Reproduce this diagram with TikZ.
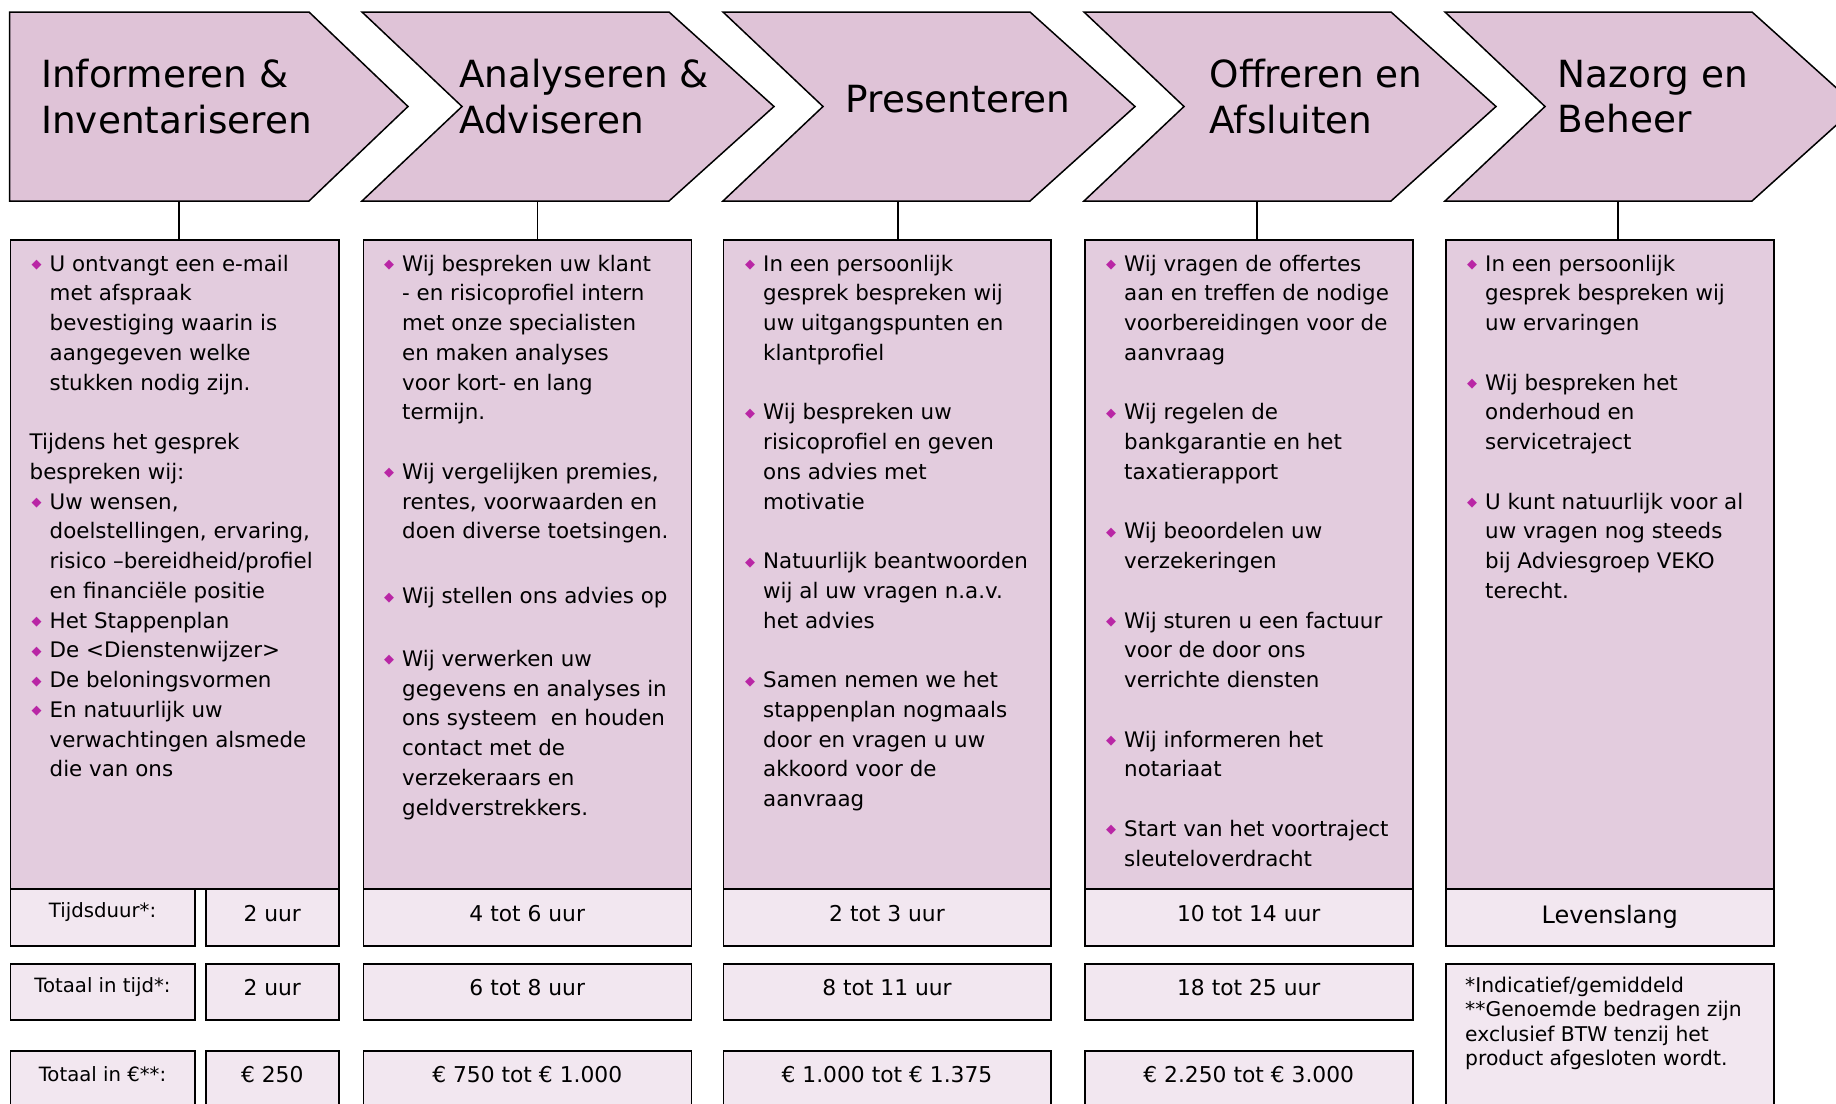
\documentclass[tikz,border=0pt]{standalone}
\usepackage{fontspec}
\setmainfont{DejaVu Sans}
\definecolor{chevfill}{RGB}{223,195,215}
\definecolor{boxfill}{RGB}{227,204,222}
\definecolor{rowfill}{RGB}{242,231,240}
\definecolor{bulletmag}{RGB}{185,38,165}
\newcommand{\bul}{\makebox[20pt][l]{\hspace{2pt}\raisebox{2.5pt}{\textcolor{bulletmag}{\fontsize{13}{13}\selectfont ◆}}}}
\newcommand{\ind}{\makebox[20pt][l]{}}
\newcommand{\pgap}{29.75pt}
\begin{document}
\begin{tikzpicture}[x=1pt,y=-1pt,
  chev/.style={fill=chevfill,draw=black,line width=1.5pt,line join=miter},
  bodybox/.style={fill=boxfill,draw=black,line width=1.5pt,inner sep=0pt,anchor=north west},
  rowbox/.style={fill=rowfill,draw=black,line width=1.5pt,inner sep=0pt,anchor=north west},
  title/.style={anchor=west,inner sep=0pt,font=\fontsize{37.4}{45.5}\selectfont,align=left},
  bodytext/.style={anchor=north west,inner sep=0pt,font=\fontsize{21.4}{29.75}\selectfont,align=left},
  valtext/.style={inner sep=0pt,font=\fontsize{21.8}{25}\selectfont},
  labtext/.style={inner sep=0pt,font=\fontsize{19.7}{22}\selectfont},
  notetext/.style={anchor=north west,inner sep=0pt,font=\fontsize{20.3}{24.3}\selectfont,align=left},
  stem/.style={line width=1.5pt}]
\useasboundingbox (0,0) rectangle (1836,1103);

% chevrons
\draw[chev] (9.5,12) -- (309,12) -- (408,106.5) -- (309,201) -- (9.5,201) -- cycle;
\foreach \L in {362,723,1084,1445}
  \draw[chev] (\L,12) -- (\L+307,12) -- (\L+412,106.5) -- (\L+307,201) -- (\L,201) -- (\L+100,106.5) -- cycle;

\node[title] (t1) at (41,96.5) {Informeren \&\\Inventariseren};
\node[title] (t2) at (459,96.5) {Analyseren \&\\Adviseren};
\node[title] (t3) at (845.5,99.5) {Presenteren};
\node[title] (t4) at (1209.5,96.5) {Offreren en\\Afsluiten};
\node[title] (t5) at (1557.5,96.5) {Nazorg en\\Beheer};

% body boxes
\node[bodybox,minimum width=328.5pt,minimum height=649pt] (body1) at (9.5,239) {};
\node[bodybox,minimum width=328pt,minimum height=649pt] (body2) at (362.5,239) {};
\node[bodybox,minimum width=327.5pt,minimum height=649pt] (body3) at (722.5,239) {};
\node[bodybox,minimum width=328pt,minimum height=649pt] (body4) at (1084,239) {};
\node[bodybox,minimum width=328pt,minimum height=649pt] (body5) at (1445,239) {};

% stems
\coordinate (c1) at (179,201);
\coordinate (c2) at (537.5,201);
\coordinate (c3) at (898,201);
\coordinate (c4) at (1257,201);
\coordinate (c5) at (1618,201);
\foreach \i in {1,...,5}
  \draw[stem] (c\i) -- (c\i |- body\i.north);

\node[bodytext] (txt1) at (29.5,250) {\strut\bul U ontvangt een e-mail\\
\ind met afspraak\\
\ind bevestiging waarin is\\
\ind aangegeven welke\\
\ind stukken nodig zijn.\\[\pgap]
Tijdens het gesprek\\
bespreken wij:\\
\bul Uw wensen,\\
\ind doelstellingen, ervaring,\\
\ind risico –bereidheid/profiel\\
\ind en financiële positie\\
\bul Het Stappenplan\\
\bul De <Dienstenwijzer>\\
\bul De beloningsvormen\\
\bul En natuurlijk uw\\
\ind verwachtingen alsmede\\
\ind die van ons};

\node[bodytext] (txt2) at (382,250) {\strut\bul Wij bespreken uw klant\\
\ind - en risicoprofiel intern\\
\ind met onze specialisten\\
\ind en maken analyses\\
\ind voor kort- en lang\\
\ind termijn.\\[\pgap]
\bul Wij vergelijken premies,\\
\ind rentes, voorwaarden en\\
\ind doen diverse toetsingen.\\[35pt]
\bul Wij stellen ons advies op\\[33pt]
\bul Wij verwerken uw\\
\ind gegevens en analyses in\\
\ind ons systeem \ en houden\\
\ind contact met de\\
\ind verzekeraars en\\
\ind geldverstrekkers.};

\node[bodytext] (txt3) at (743,250) {\strut\bul In een persoonlijk\\
\ind gesprek bespreken wij\\
\ind uw uitgangspunten en\\
\ind klantprofiel\\[\pgap]
\bul Wij bespreken uw\\
\ind risicoprofiel en geven\\
\ind ons advies met\\
\ind motivatie\\[\pgap]
\bul Natuurlijk beantwoorden\\
\ind wij al uw vragen n.a.v.\\
\ind het advies\\[\pgap]
\bul Samen nemen we het\\
\ind stappenplan nogmaals\\
\ind door en vragen u uw\\
\ind akkoord voor de\\
\ind aanvraag};

\node[bodytext] (txt4) at (1104,250) {\strut\bul Wij vragen de offertes\\
\ind aan en treffen de nodige\\
\ind voorbereidingen voor de\\
\ind aanvraag\\[\pgap]
\bul Wij regelen de\\
\ind bankgarantie en het\\
\ind taxatierapport\\[\pgap]
\bul Wij beoordelen uw\\
\ind verzekeringen\\[\pgap]
\bul Wij sturen u een factuur\\
\ind voor de door ons\\
\ind verrichte diensten\\[\pgap]
\bul Wij informeren het\\
\ind notariaat\\[\pgap]
\bul Start van het voortraject\\
\ind sleuteloverdracht};

\node[bodytext] (txt5) at (1465,250) {\strut\bul In een persoonlijk\\
\ind gesprek bespreken wij\\
\ind uw ervaringen\\[\pgap]
\bul Wij bespreken het\\
\ind onderhoud en\\
\ind servicetraject\\[\pgap]
\bul U kunt natuurlijk voor al\\
\ind uw vragen nog steeds\\
\ind bij Adviesgroep VEKO\\
\ind terecht.};

% Tijdsduur row
\node[rowbox,minimum width=184.5pt,minimum height=57pt] (dur0) at (9.5,888) {};
\node[rowbox,minimum width=133pt,minimum height=57pt] (dur1) at (205,888) {};
\node[rowbox,minimum width=328pt,minimum height=57pt] (dur2) at (362.5,888) {};
\node[rowbox,minimum width=327.5pt,minimum height=57pt] (dur3) at (722.5,888) {};
\node[rowbox,minimum width=328pt,minimum height=57pt] (dur4) at (1084,888) {};
\node[rowbox,minimum width=328pt,minimum height=57pt] (dur5) at (1445,888) {};
\node[labtext] at ([yshift=5pt]dur0.center) {Tijdsduur*:};
\node[valtext] at ([yshift=4pt]dur1.center) {2 uur};
\node[valtext] at ([yshift=4pt]dur2.center) {4 tot 6 uur};
\node[valtext] at ([yshift=4pt]dur3.center) {2 tot 3 uur};
\node[valtext] at ([yshift=4pt]dur4.center) {10 tot 14 uur};
\node[valtext,font=\fontsize{24}{28}\selectfont] at ([yshift=0pt]dur5.center) {Levenslang};

% Totaal in tijd row
\node[rowbox,minimum width=184.5pt,minimum height=56pt] (tot0) at (9.5,963) {};
\node[rowbox,minimum width=133pt,minimum height=56pt] (tot1) at (205,963) {};
\node[rowbox,minimum width=328pt,minimum height=56pt] (tot2) at (362.5,963) {};
\node[rowbox,minimum width=327.5pt,minimum height=56pt] (tot3) at (722.5,963) {};
\node[rowbox,minimum width=328pt,minimum height=56pt] (tot4) at (1084,963) {};
\node[labtext] at ([yshift=5pt]tot0.center) {Totaal in tijd*:};
\node[valtext] at ([yshift=4pt]tot1.center) {2 uur};
\node[valtext] at ([yshift=4pt]tot2.center) {6 tot 8 uur};
\node[valtext] at ([yshift=4pt]tot3.center) {8 tot 11 uur};
\node[valtext] at ([yshift=4pt]tot4.center) {18 tot 25 uur};

% Totaal in euro row
\node[rowbox,minimum width=184.5pt,minimum height=58pt] (eur0) at (9.5,1050) {};
\node[rowbox,minimum width=133pt,minimum height=58pt] (eur1) at (205,1050) {};
\node[rowbox,minimum width=328pt,minimum height=58pt] (eur2) at (362.5,1050) {};
\node[rowbox,minimum width=327.5pt,minimum height=58pt] (eur3) at (722.5,1050) {};
\node[rowbox,minimum width=328pt,minimum height=58pt] (eur4) at (1084,1050) {};
\node[labtext] at ([yshift=6pt]eur0.center) {Totaal in €**:};
\node[valtext] at ([yshift=5pt]eur1.center) {€ 250};
\node[valtext] at ([yshift=5pt]eur2.center) {€ 750 tot € 1.000};
\node[valtext] at ([yshift=5pt]eur3.center) {€ 1.000 tot € 1.375};
\node[valtext] at ([yshift=5pt]eur4.center) {€ 2.250 tot € 3.000};

% footnote
\node[rowbox,minimum width=328pt,minimum height=160pt] (note) at (1445,963) {};
\node[notetext] (notetxt) at (1465,977) {*Indicatief/gemiddeld\\
**Genoemde bedragen zijn\\
exclusief BTW tenzij het\\
product afgesloten wordt.};
\end{tikzpicture}
\end{document}
